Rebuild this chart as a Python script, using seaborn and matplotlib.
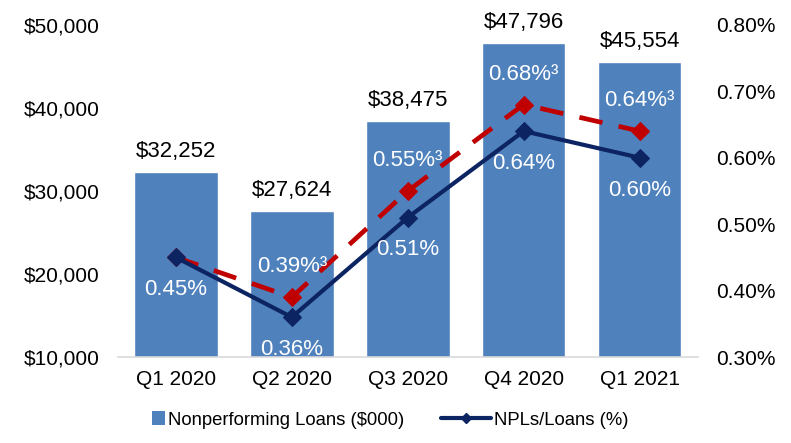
import matplotlib
matplotlib.use("Agg")
import matplotlib.pyplot as plt
import seaborn as sns
import pandas as pd
from matplotlib.patches import Patch, Rectangle
from matplotlib.lines import Line2D
from matplotlib.legend_handler import HandlerPatch

# chart data
quarters = ["Q1 2020", "Q2 2020", "Q3 2020", "Q4 2020", "Q1 2021"]
npl_amounts = [32252, 27624, 38475, 47796, 45554]
npl_ratio = [0.45, 0.36, 0.51, 0.64, 0.60]
npl_ratio_adj = [0.45, 0.39, 0.55, 0.68, 0.64]
adj_labels = ["", "0.39%³", "0.55%³", "0.68%³", "0.64%³"]

bar_color = "#4F81BD"
navy = "#0C2462"
red = "#C00000"

sns.set_theme(style="white")
plt.rcParams["font.family"] = ["Liberation Sans", "DejaVu Sans"]
plt.rcParams["text.color"] = "black"
plt.rcParams["xtick.color"] = "black"
plt.rcParams["ytick.color"] = "black"

df = pd.DataFrame({"Quarter": quarters, "Amount": npl_amounts,
                   "Ratio": npl_ratio, "Adj": npl_ratio_adj})

fig = plt.figure(figsize=(7.91, 4.43), dpi=100)
ax = fig.add_axes([0.149, 0.194, 0.733, 0.75])
sns.barplot(data=df, x="Quarter", y="Amount", color=bar_color, width=0.72,
            saturation=1, ax=ax)
ax.set_ylim(10000, 50000)
ax.set_xlim(-0.5, 4.5)
ax.set_yticks(range(10000, 50001, 10000))
ax.set_yticklabels([f"${v:,.0f}" for v in range(10000, 50001, 10000)])
ax.set_xlabel("")
ax.set_ylabel("")
ax.tick_params(axis="y", length=0, labelsize=15, pad=13)
ax.tick_params(axis="x", length=0, labelsize=15, pad=9)
for s in ax.spines.values():
    s.set_visible(False)
ax.spines["bottom"].set_visible(True)
ax.spines["bottom"].set_color("#D9D9D9")
ax.spines["bottom"].set_linewidth(1.2)

for i, v in enumerate(npl_amounts):
    ax.text(i, v + 1200, f"${v:,.0f}", ha="center", va="bottom", fontsize=16)

ax2 = ax.twinx()
x_pos = list(range(len(quarters)))
sns.lineplot(x=x_pos, y=npl_ratio_adj, ax=ax2, color=red, lw=3.4,
             dashes=False, linestyle=(0, (5, 3.5)), marker="D", markersize=9,
             markeredgecolor=red)
sns.lineplot(x=x_pos, y=npl_ratio, ax=ax2, color=navy, lw=3,
             marker="D", markersize=9, markeredgecolor=navy)
ax2.set_ylim(0.30, 0.80)
ax2.set_xlim(-0.5, 4.5)
ax2.set_yticks([0.30, 0.40, 0.50, 0.60, 0.70, 0.80])
ax2.set_yticklabels([f"{v:.2f}%" for v in [0.30, 0.40, 0.50, 0.60, 0.70, 0.80]])
ax2.tick_params(axis="y", length=0, labelsize=15, pad=13)
for s in ax2.spines.values():
    s.set_visible(False)

for i, v in enumerate(npl_ratio):
    ax2.text(i, v - 0.033, f"{v:.2f}%", ha="center", va="top",
             fontsize=16, color="white")
for i, v in enumerate(npl_ratio_adj):
    if adj_labels[i]:
        ax2.text(i, v + 0.03, adj_labels[i], ha="center", va="bottom",
                 fontsize=16, color="white")


class SquareHandler(HandlerPatch):
    def create_artists(self, legend, orig_handle, xdescent, ydescent,
                       width, height, fontsize, trans):
        side = height * 1.05
        r = Rectangle((width - side - xdescent, -ydescent + (height - side) / 2),
                      side, side, facecolor=orig_handle.get_facecolor(),
                      edgecolor="none", transform=trans)
        return [r]


handles = [Patch(facecolor=bar_color, edgecolor=bar_color),
           Line2D([], [], color=navy, lw=3, marker="D", markersize=5)]
fig.legend(handles, ["Nonperforming Loans ($000)", "NPLs/Loans (%)"],
           handler_map={Patch: SquareHandler()},
           loc="lower center", bbox_to_anchor=(0.47, -0.005), ncol=2,
           frameon=False, fontsize=13.3, columnspacing=2.0,
           handlelength=2.7, handletextpad=0.15)

fig.savefig("out.png", dpi=100)
